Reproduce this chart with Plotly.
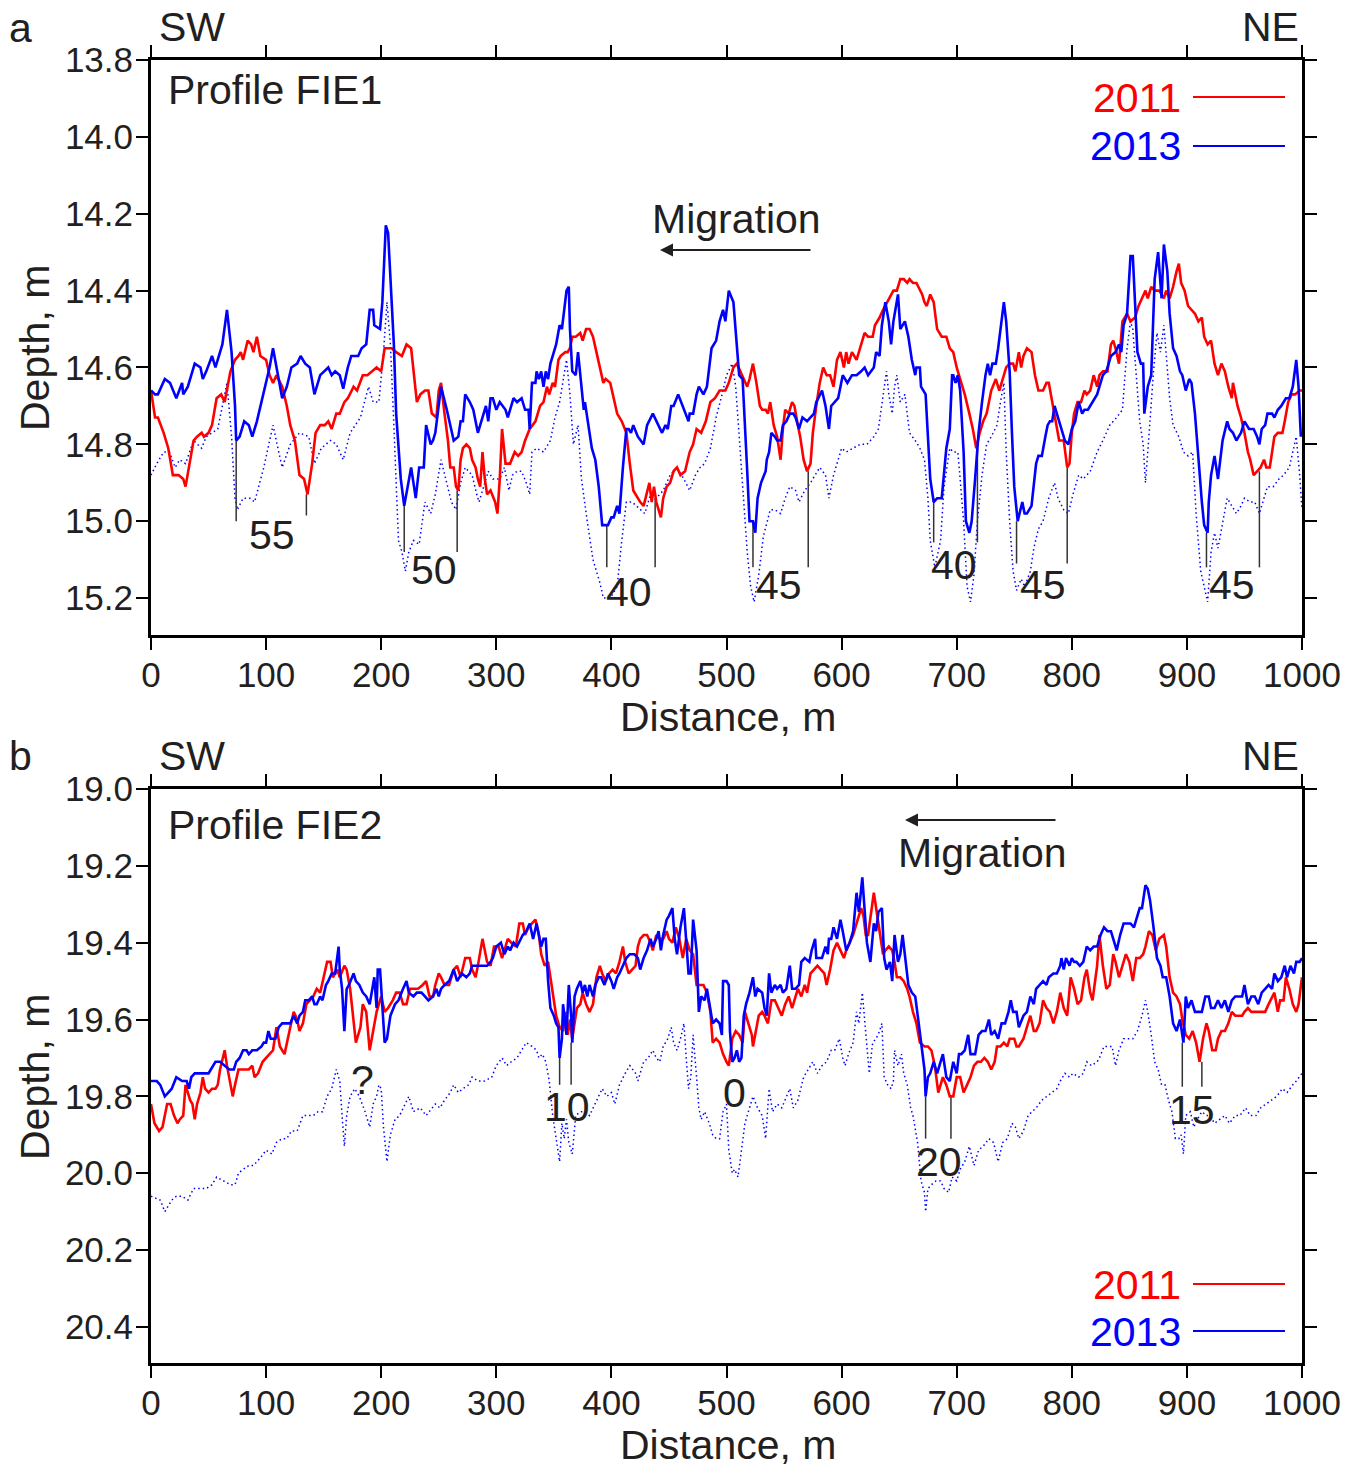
import plotly.graph_objects as go

# ---------------- Panel a : Profile FIE1 ----------------
a2013_x = [0,3.5,6,12,16.5,22,27,28,32,38,43,45,48,53,56,62,66,70,73,74,77,81,85,88,92,98,103,106,110,114,118,122,127,130,134,138,142,147,154,157,160,164,167,171,174,180,183,187,190,193,194,199,201,204,206,211,213,217,220,223,226,230,233,237,239,243,245,
 247,252,257,263,267,269,271,273,277,280,284,288,291,293,295,297,300,303,308,310,315,318,322,325,328,329,331,334,335,337,339,341,343,345,347,350,352,355,357,361,363,364,366,369,371,373,376,377,381,383,386,389,392,397,400,402,405,407,410,413,415,417,419,423,428,431,436,439,444,447,449,452,454,458,462,465,467,468,471,474,476,480,483,487,491,494,497,
 499,502,506,509,511,514,516,518,520,523,525,527,530,534,535,537,539,542,544,547,549,552,555,558,560,563,566,570,573,576,578,583,586,589,591,594,597,601,605,609,613,617,620,623,628,630,633,635,638,641,643,645,649,651,655,658,661,664,665,668,669,673,675,677,680,683,687,689,691,694,696,697,699,701,703,706,708,711,713,716,719,722,725,727,729,731,734,736,
 738,741,743,746,748,750,753,755,757,759,761,765,769,771,774,777,779,781,783,785,788,791,794,797,800,803,806,809,811,814,818,822,824,827,830,834,838,841,843,845,848,851,853,855,857,860,862,863,866,869,872,875,878,880,883,885,888,891,894,896,899,902,904,907,910,913,915,918,919,921,924,927,931,935,937,940,943,947,950,954,958,961,963,965,968,970,974,976,979,982,986,989,992,995,997,999]
a2013_y = [14.66,14.67,14.67,14.63,14.64,14.68,14.64,14.67,14.65,14.59,14.60,14.63,14.61,14.57,14.60,14.54,14.45,14.56,14.70,14.79,14.78,14.74,14.75,14.78,14.74,14.66,14.60,14.55,14.62,14.68,14.65,14.60,14.59,14.57,14.59,14.60,14.67,14.62,14.60,14.62,14.61,14.62,14.655,14.60,14.57,14.57,14.55,14.54,14.45,14.45,14.49,14.50,14.43,14.23,14.25,14.54,14.72,14.89,14.96,14.91,14.86,14.94,14.86,14.86,14.75,14.80,14.79,
 14.77,14.65,14.71,14.79,14.78,14.74,14.74,14.67,14.69,14.71,14.77,14.73,14.70,14.74,14.68,14.68,14.71,14.69,14.71,14.73,14.68,14.69,14.68,14.71,14.71,14.76,14.64,14.64,14.61,14.63,14.61,14.65,14.61,14.63,14.59,14.56,14.54,14.49,14.50,14.40,14.39,14.50,14.61,14.62,14.56,14.62,14.71,14.69,14.77,14.81,14.84,14.91,15.01,15.01,14.99,14.99,14.96,14.98,14.86,14.76,14.76,14.77,14.75,14.78,14.80,14.75,14.72,14.74,14.77,14.75,14.76,14.70,14.70,14.67,14.70,14.72,14.74,14.72,14.72,14.67,14.65,14.67,14.65,14.55,14.53,14.48,14.45,
 14.48,14.40,14.43,14.55,14.62,14.63,14.74,14.87,15.00,15.00,15.03,14.94,14.90,14.87,14.84,14.82,14.77,14.78,14.79,14.79,14.75,14.74,14.72,14.72,14.73,14.76,14.73,14.74,14.73,14.72,14.69,14.66,14.70,14.76,14.70,14.69,14.68,14.62,14.64,14.62,14.62,14.61,14.60,14.62,14.60,14.56,14.57,14.49,14.43,14.48,14.54,14.48,14.41,14.50,14.48,14.52,14.58,14.62,14.60,14.60,14.65,14.67,14.78,14.89,14.95,14.94,14.94,14.88,14.81,14.76,14.62,14.62,14.64,14.62,14.66,14.82,15.00,15.03,15.00,14.89,14.77,14.69,14.62,14.59,14.62,14.59,14.59,14.55,
 14.50,14.43,14.48,14.61,14.77,14.91,15.00,14.97,14.95,14.98,14.98,14.96,14.85,14.83,14.83,14.78,14.75,14.74,14.74,14.70,14.73,14.76,14.79,14.80,14.76,14.74,14.69,14.72,14.71,14.71,14.69,14.67,14.65,14.62,14.61,14.57,14.56,14.54,14.56,14.49,14.46,14.31,14.31,14.43,14.56,14.59,14.59,14.72,14.65,14.62,14.37,14.30,14.42,14.28,14.35,14.46,14.55,14.57,14.61,14.62,14.66,14.63,14.64,14.72,14.84,14.95,15.01,15.03,14.95,14.88,14.83,14.89,14.79,14.74,14.76,14.77,14.79,14.77,14.74,14.76,14.76,14.78,14.80,14.76,14.75,14.72,14.72,14.73,14.71,14.70,14.68,14.68,14.65,14.58,14.65,14.78]

a2011_x = [0,3.5,6,11,15,19,24,28,30,33,37,40,44,46,50,53,57,61,64,69,73,76,78,80,84,87,89,92,95,100,103,106,109,114,118,121,125,129,133,136,140,143,147,151,154,157,161,164,168,171,176,179,184,188,192,196,200,203,206,209,213,218,222,226,231,234,238,241,244,248,
 250,252,255,258,260,263,265,267,269,271,274,277,279,282,284,286,288,290,292,295,299,301,303,305,308,312,316,319,322,325,329,334,338,341,344,346,349,351,354,356,360,362,364,366,369,373,375,378,381,384,387,390,393,395,399,402,405,409,413,416,419,423,425,428,431,433,435,437,439,443,445,448,451,454,457,460,464,468,471,474,478,482,486,490,494,
 499,502,506,509,512,514,518,520,523,526,529,531,534,536,538,541,544,547,549,551,554,557,559,562,564,567,570,573,575,578,581,584,587,590,593,596,599,602,604,606,609,613,616,620,623,627,629,633,636,641,645,648,651,654,657,659,662,665,668,670,672,674,677,680,683,687,691,694,697,700,703,707,711,714,717,720,723,726,730,734,737,740,743,746,749,751,
 754,756,758,761,765,768,771,775,778,780,783,786,789,793,796,798,800,802,805,808,811,813,816,819,822,824,827,831,834,836,838,841,844,848,851,855,858,861,864,866,869,872,876,880,882,885,888,891,893,895,898,901,904,907,910,913,915,918,921,924,927,930,933,936,939,940,944,947,950,953,955,958,961,964,967,969,972,974,976,979,983,985,988,991,994,998,1000]
a2011_y = [14.66,14.73,14.73,14.77,14.81,14.88,14.88,14.89,14.91,14.86,14.79,14.78,14.77,14.78,14.77,14.75,14.68,14.67,14.69,14.61,14.58,14.57,14.56,14.58,14.53,14.54,14.56,14.52,14.57,14.58,14.62,14.64,14.62,14.65,14.70,14.75,14.79,14.88,14.89,14.93,14.85,14.77,14.75,14.75,14.74,14.76,14.72,14.72,14.69,14.68,14.65,14.66,14.62,14.62,14.61,14.60,14.61,14.55,14.55,14.55,14.56,14.57,14.54,14.55,14.69,14.67,14.66,14.66,14.72,14.73,
 14.66,14.64,14.72,14.79,14.86,14.86,14.91,14.92,14.84,14.81,14.80,14.81,14.84,14.86,14.89,14.91,14.82,14.89,14.93,14.92,14.95,14.98,14.89,14.76,14.85,14.85,14.82,14.83,14.82,14.79,14.76,14.74,14.70,14.69,14.65,14.67,14.64,14.65,14.58,14.57,14.56,14.56,14.55,14.52,14.52,14.51,14.53,14.50,14.50,14.52,14.56,14.60,14.64,14.63,14.64,14.68,14.72,14.74,14.77,14.85,14.92,14.94,14.95,14.96,14.92,14.90,14.95,14.91,14.95,14.99,14.94,14.91,14.90,14.87,14.86,14.88,14.87,14.82,14.80,14.76,14.77,14.74,14.69,14.68,14.66,
 14.66,14.64,14.60,14.59,14.61,14.62,14.65,14.63,14.59,14.64,14.70,14.71,14.71,14.72,14.69,14.75,14.78,14.84,14.76,14.71,14.72,14.69,14.70,14.75,14.78,14.84,14.87,14.85,14.77,14.70,14.64,14.60,14.62,14.62,14.65,14.58,14.56,14.60,14.56,14.59,14.56,14.58,14.55,14.51,14.52,14.52,14.49,14.47,14.45,14.42,14.40,14.40,14.37,14.37,14.38,14.37,14.38,14.38,14.40,14.41,14.43,14.44,14.41,14.43,14.50,14.52,14.52,14.55,14.56,14.60,14.63,14.67,14.72,14.76,14.81,14.77,14.74,14.72,14.66,14.63,14.66,14.63,14.60,14.59,14.59,14.61,
 14.56,14.60,14.57,14.55,14.56,14.62,14.66,14.66,14.64,14.64,14.69,14.74,14.79,14.79,14.86,14.85,14.77,14.72,14.69,14.69,14.66,14.67,14.66,14.62,14.65,14.62,14.61,14.61,14.54,14.53,14.55,14.59,14.48,14.46,14.48,14.47,14.44,14.42,14.40,14.42,14.39,14.40,14.40,14.42,14.40,14.42,14.39,14.35,14.33,14.38,14.40,14.44,14.45,14.46,14.48,14.47,14.52,14.54,14.53,14.59,14.62,14.59,14.61,14.65,14.68,14.64,14.70,14.73,14.77,14.82,14.84,14.88,14.87,14.86,14.84,14.86,14.86,14.82,14.78,14.77,14.77,14.74,14.69,14.67,14.67,14.66,14.66]

a_dot_x = [0,5,11,16,21,25,30,37,44,48,58,66,70,73,75,80,86,90,98,106,111,114,121,129,137,142,148,156,161,167,173,182,189,193,198,202,205,208,211,215,218,221,224,228,233,238,243,
 247,252,257,261,265,269,273,279,283,285,289,293,297,303,307,311,314,318,322,326,329,331,335,341,347,351,355,361,364,367,371,374,379,384,390,393,399,405,409,413,418,422,426,429,434,439,445,451,457,463,468,473,477,481,486,491,497,
 500,505,508,512,515,518,521,524,528,532,538,542,547,551,555,560,563,568,573,577,581,586,589,593,597,600,604,610,616,622,628,632,636,639,641,644,646,648,651,655,659,664,668,672,675,677,681,686,689,694,697,701,703,706,709,712,715,718,722,726,730,735,
 738,741,743,746,749,752,756,759,764,767,771,775,780,785,788,793,797,801,806,810,816,822,827,833,839,844,848,851,853,856,859,862,864,866,868,871,874,877,880,882,885,888,893,897,901,905,908,912,915,918,921,924,927,931,935,939,943,947,950,955,959,963,966,970,975,980,984,989,992,995,998,1000]
a_dot_y = [14.88,14.85,14.82,14.82,14.86,14.84,14.85,14.79,14.81,14.78,14.76,14.64,14.78,14.94,14.97,14.94,14.94,14.95,14.86,14.75,14.82,14.86,14.80,14.77,14.78,14.85,14.81,14.79,14.80,14.84,14.77,14.73,14.65,14.69,14.69,14.56,14.43,14.54,14.75,15.05,15.08,15.13,15.08,15.05,15.06,14.95,14.98,
 14.93,14.84,14.90,14.95,14.97,14.90,14.86,14.88,14.93,14.95,14.91,14.87,14.89,14.89,14.86,14.92,14.88,14.87,14.87,14.90,14.93,14.82,14.81,14.82,14.79,14.73,14.69,14.58,14.67,14.80,14.75,14.89,15.00,15.10,15.16,15.20,15.20,15.17,15.05,14.95,14.95,14.96,14.97,14.98,14.93,14.94,14.92,14.88,14.86,14.89,14.92,14.88,14.86,14.85,14.81,14.73,14.66,
 14.62,14.59,14.65,14.82,14.95,15.08,15.17,15.21,15.14,15.04,14.97,14.97,14.98,14.94,14.91,14.92,14.95,14.92,14.90,14.88,14.86,14.88,14.94,14.88,14.84,14.81,14.82,14.81,14.80,14.80,14.78,14.76,14.67,14.61,14.67,14.72,14.65,14.62,14.69,14.67,14.77,14.79,14.81,14.84,14.94,15.05,15.12,15.05,14.91,14.81,14.82,14.82,14.89,15.00,15.17,15.21,15.14,15.00,14.88,14.80,14.78,14.75,
 14.69,14.64,14.82,15.00,15.13,15.18,15.15,15.17,15.13,15.07,15.02,15.00,14.94,14.90,14.94,14.97,14.98,14.93,14.88,14.89,14.87,14.82,14.79,14.75,14.73,14.71,14.55,14.48,14.50,14.61,14.74,14.80,14.90,14.82,14.73,14.61,14.51,14.56,14.49,14.56,14.68,14.75,14.78,14.82,14.83,14.82,14.98,15.13,15.17,15.21,15.08,15.03,15.07,15.00,14.94,14.96,14.98,14.96,14.94,14.95,14.95,14.98,14.95,14.91,14.91,14.89,14.88,14.86,14.82,14.78,14.88,14.97]

# migration marker lines (distance, upper depth, lower depth) and their labels
a_mark_x = [74,135,220,266,396,438,523,571,680,718,752,796,917,963]
a_mark_top = [14.79,14.93,14.96,14.92,15.01,14.94,15.00,14.87,14.94,14.80,15.00,14.86,15.03,14.87]
a_mark_bot = [15.00,14.985,15.08,15.08,15.12,15.12,15.12,15.12,15.055,15.055,15.11,15.11,15.12,15.12]
a_lab_text = ["55","50","40","45","40","45","45"]
a_lab_x = [105,246,415,546,698,775,939]
a_lab_y = [15.037,15.128,15.185,15.167,15.115,15.167,15.167]

# ---------------- Panel b : Profile FIE2 ----------------
b2013_x = [0,5,8,12,15,18,22,27,31,33,35,38,41,45,50,52,56,60,64,68,72,74,77,80,83,85,88,92,96,98,100,102,104,108,111,114,118,121,124,127,129,132,134,137,140,142,144,147,149,152,154,157,160,163,164,166,168,170,172,176,178,181,184,187,190,193,194,196,197,199,201,203,205,208,212,215,219,222,224,228,231,235,238,241,245,248,
 250,252,255,259,263,266,270,274,277,279,283,287,292,295,297,300,304,307,310,312,315,318,321,323,326,329,332,335,337,339,341,343,345,347,350,352,354,355,357,358,361,363,365,366,368,370,373,375,377,379,381,384,386,389,391,394,397,400,402,405,407,410,413,416,420,423,425,428,431,434,436,439,441,443,445,448,450,453,455,457,460,463,465,467,469,471,474,476,478,481,483,486,488,491,494,496,497,500,502,
 503,505,507,509,511,513,515,517,520,523,525,527,531,533,535,537,539,542,544,547,549,552,555,557,560,563,565,568,572,574,577,578,583,586,588,589,591,593,596,599,601,604,607,610,613,615,618,620,622,625,628,630,632,635,637,639,642,644,646,649,651,653,656,658,661,664,667,670,672,673,675,677,680,683,686,688,691,694,697,700,702,704,707,710,712,716,719,722,725,728,730,733,736,739,742,745,747,749,752,
 754,758,761,764,767,769,772,775,778,780,784,787,790,791,793,795,798,800,802,804,807,810,813,816,819,822,825,828,831,834,836,839,842,845,848,851,854,857,859,861,864,866,868,871,874,877,879,882,885,888,891,894,897,899,901,904,907,910,913,916,919,921,924,927,930,933,936,939,942,945,948,950,953,956,959,962,965,968,971,974,976,979,982,985,987,990,993,995,998,1000]
b2013_y = [19.76,19.76,19.77,19.80,19.79,19.78,19.75,19.76,19.76,19.78,19.75,19.74,19.74,19.74,19.74,19.73,19.71,19.71,19.72,19.73,19.73,19.71,19.70,19.68,19.68,19.69,19.68,19.68,19.67,19.66,19.66,19.63,19.65,19.65,19.62,19.61,19.61,19.61,19.59,19.61,19.59,19.58,19.55,19.55,19.54,19.56,19.56,19.54,19.55,19.51,19.50,19.48,19.48,19.41,19.47,19.52,19.63,19.52,19.51,19.48,19.50,19.51,19.53,19.54,19.56,19.51,19.49,19.57,19.47,19.47,19.58,19.66,19.65,19.59,19.56,19.55,19.52,19.50,19.53,19.54,19.53,19.53,19.54,19.55,19.54,19.52,
 19.54,19.52,19.51,19.50,19.47,19.50,19.48,19.49,19.48,19.46,19.46,19.46,19.46,19.45,19.44,19.41,19.40,19.43,19.41,19.42,19.40,19.41,19.39,19.38,19.37,19.35,19.39,19.35,19.38,19.41,19.39,19.39,19.50,19.57,19.59,19.61,19.62,19.70,19.65,19.56,19.64,19.51,19.59,19.66,19.54,19.52,19.50,19.53,19.51,19.54,19.51,19.54,19.51,19.49,19.49,19.51,19.48,19.50,19.52,19.49,19.48,19.46,19.44,19.43,19.43,19.44,19.47,19.44,19.42,19.39,19.41,19.39,19.37,19.42,19.38,19.34,19.33,19.31,19.39,19.43,19.36,19.31,19.40,19.48,19.48,19.34,19.42,19.58,19.54,19.55,19.52,19.57,19.61,19.60,19.61,19.64,19.50,19.50,19.51,
 19.63,19.71,19.70,19.68,19.71,19.70,19.59,19.56,19.53,19.49,19.54,19.52,19.53,19.57,19.59,19.48,19.53,19.51,19.52,19.51,19.53,19.52,19.46,19.52,19.52,19.51,19.45,19.44,19.45,19.42,19.39,19.44,19.44,19.41,19.43,19.39,19.39,19.36,19.39,19.34,19.37,19.42,19.40,19.37,19.27,19.32,19.23,19.32,19.40,19.45,19.35,19.37,19.32,19.31,19.44,19.47,19.45,19.50,19.38,19.45,19.43,19.38,19.46,19.51,19.53,19.54,19.61,19.68,19.73,19.80,19.75,19.74,19.71,19.74,19.71,19.69,19.75,19.76,19.71,19.74,19.69,19.69,19.68,19.64,19.69,19.69,19.64,19.63,19.63,19.60,19.64,19.63,19.65,19.61,19.61,19.58,19.55,19.58,19.58,
 19.62,19.59,19.58,19.54,19.56,19.52,19.51,19.50,19.51,19.49,19.48,19.48,19.46,19.44,19.47,19.44,19.46,19.44,19.45,19.45,19.46,19.45,19.41,19.42,19.41,19.41,19.38,19.36,19.37,19.37,19.39,19.42,19.38,19.35,19.35,19.35,19.36,19.33,19.31,19.31,19.25,19.26,19.29,19.36,19.44,19.46,19.49,19.49,19.54,19.61,19.63,19.60,19.66,19.54,19.57,19.55,19.58,19.58,19.58,19.54,19.54,19.57,19.57,19.55,19.57,19.55,19.58,19.55,19.54,19.54,19.54,19.51,19.56,19.54,19.54,19.56,19.53,19.52,19.51,19.52,19.48,19.50,19.49,19.46,19.49,19.46,19.48,19.45,19.45,19.44]

b2011_x = [0,3,7,10,14,17,20,23,25,28,30,34,36,38,40,43,45,47,50,53,56,58,60,64,66,69,71,73,76,79,83,85,88,90,93,97,100,103,106,109,112,116,118,121,124,127,129,132,135,138,141,144,147,150,153,156,158,162,164,168,170,173,176,178,182,184,187,190,193,196,200,203,206,210,213,216,219,222,225,228,232,236,239,242,245,
 247,250,252,255,259,263,266,269,273,277,279,282,284,288,292,295,298,302,305,308,310,313,317,320,323,325,328,331,334,337,339,342,345,347,350,352,355,358,360,362,364,366,368,370,373,375,378,381,384,387,390,392,395,398,401,404,407,410,412,415,418,421,423,425,428,431,434,436,439,442,445,448,450,453,456,459,462,465,468,471,474,477,480,483,486,488,491,494,497,500,502,
 505,508,511,514,516,519,522,523,526,528,531,533,536,539,542,545,548,551,554,557,560,562,565,568,570,573,576,579,582,585,587,590,593,596,599,602,604,607,610,614,617,619,621,623,625,628,631,633,636,638,641,644,646,648,651,654,657,659,662,665,668,672,675,678,681,684,686,688,691,694,697,700,703,706,709,712,715,718,721,724,727,730,733,735,738,741,744,746,750,752,
 754,758,761,764,767,769,772,775,778,781,784,787,790,793,796,799,802,805,808,811,813,816,818,822,824,827,830,833,836,838,841,844,847,850,853,856,859,862,864,867,870,873,876,880,882,885,888,891,894,896,899,902,905,908,911,914,917,919,922,925,927,930,933,936,939,942,945,948,950,953,956,959,962,965,968,971,974,976,979,981,984,986,989,992,995,997,1000]
b2011_y = [19.82,19.87,19.89,19.88,19.82,19.82,19.85,19.87,19.86,19.85,19.77,19.81,19.82,19.86,19.82,19.79,19.75,19.78,19.79,19.78,19.78,19.77,19.73,19.68,19.72,19.77,19.80,19.77,19.73,19.73,19.73,19.73,19.72,19.75,19.74,19.71,19.70,19.69,19.68,19.62,19.67,19.69,19.66,19.62,19.58,19.60,19.63,19.61,19.56,19.55,19.54,19.52,19.53,19.49,19.45,19.45,19.49,19.47,19.49,19.46,19.47,19.52,19.61,19.66,19.62,19.56,19.58,19.68,19.63,19.58,19.54,19.58,19.57,19.55,19.53,19.53,19.56,19.56,19.52,19.52,19.52,19.51,19.50,19.54,19.54,
 19.51,19.48,19.49,19.51,19.51,19.47,19.46,19.49,19.44,19.44,19.47,19.49,19.46,19.39,19.45,19.46,19.41,19.41,19.44,19.41,19.39,19.40,19.41,19.35,19.35,19.38,19.36,19.35,19.34,19.38,19.43,19.46,19.45,19.49,19.55,19.59,19.62,19.63,19.58,19.64,19.60,19.65,19.61,19.57,19.56,19.53,19.56,19.58,19.56,19.49,19.46,19.48,19.50,19.48,19.47,19.48,19.45,19.41,19.45,19.48,19.47,19.46,19.41,19.39,19.38,19.38,19.40,19.42,19.38,19.39,19.39,19.37,19.39,19.40,19.36,19.39,19.44,19.39,19.42,19.43,19.51,19.51,19.51,19.53,19.58,19.66,19.65,19.66,19.69,19.71,19.72,
 19.65,19.63,19.64,19.66,19.58,19.61,19.64,19.67,19.62,19.59,19.58,19.59,19.61,19.55,19.55,19.57,19.59,19.56,19.54,19.57,19.54,19.52,19.54,19.51,19.53,19.48,19.47,19.46,19.47,19.48,19.51,19.47,19.42,19.40,19.42,19.44,19.42,19.40,19.38,19.34,19.31,19.33,19.38,19.38,19.33,19.27,19.33,19.37,19.43,19.42,19.41,19.42,19.45,19.49,19.49,19.50,19.52,19.54,19.58,19.61,19.66,19.67,19.67,19.68,19.72,19.79,19.77,19.75,19.77,19.80,19.80,19.75,19.75,19.79,19.77,19.75,19.72,19.71,19.71,19.70,19.71,19.73,19.71,19.67,19.67,19.66,19.67,19.65,19.65,19.67,
 19.67,19.65,19.62,19.59,19.63,19.63,19.61,19.55,19.57,19.58,19.61,19.58,19.53,19.57,19.59,19.49,19.52,19.56,19.55,19.49,19.47,19.53,19.55,19.46,19.38,19.46,19.52,19.51,19.43,19.45,19.49,19.46,19.43,19.45,19.50,19.44,19.44,19.43,19.41,19.37,19.38,19.42,19.39,19.38,19.41,19.49,19.53,19.54,19.56,19.60,19.64,19.65,19.63,19.66,19.71,19.65,19.61,19.63,19.68,19.68,19.65,19.63,19.63,19.61,19.58,19.59,19.59,19.59,19.58,19.57,19.58,19.58,19.58,19.58,19.58,19.56,19.54,19.53,19.58,19.55,19.55,19.49,19.52,19.56,19.58,19.56,19.49]

b_dot_x = [0,8,12,18,22,27,32,37,43,48,53,57,63,69,73,76,80,85,89,95,100,105,109,114,118,122,127,132,135,141,145,149,153,157,161,164,166,168,170,173,177,181,186,190,193,196,198,200,202,205,208,212,216,221,224,228,234,239,244,
 247,251,255,260,263,267,271,276,279,284,290,296,300,305,309,313,318,322,326,331,335,337,340,343,346,349,352,355,357,359,361,363,366,369,373,377,381,384,389,392,396,400,403,407,412,416,421,423,428,432,436,439,442,445,449,452,454,457,460,463,465,467,469,471,474,476,478,481,485,488,491,494,
 497,500,502,505,507,510,513,516,520,523,527,531,534,537,540,544,548,552,555,558,562,567,571,575,579,583,587,591,594,598,601,603,606,610,613,615,618,621,624,627,630,633,635,637,640,643,645,646,649,652,654,657,660,662,666,669,672,673,675,678,682,686,689,693,696,700,703,707,711,715,719,723,728,732,736,
 740,744,748,751,754,758,762,766,769,774,778,782,787,790,794,798,801,806,810,813,817,822,824,828,832,835,838,841,845,849,853,857,861,864,866,869,872,875,878,881,884,887,890,893,895,897,899,903,906,909,913,917,920,924,929,933,937,942,946,951,955,960,964,969,974,978,983,987,992,995,1000]
b_dot_y = [20.06,20.07,20.10,20.07,20.06,20.06,20.07,20.04,20.04,20.04,20.03,20.01,20.02,20.03,20.03,20.00,19.99,19.98,19.98,19.96,19.94,19.95,19.92,19.91,19.91,19.89,19.89,19.85,19.85,19.85,19.84,19.84,19.80,19.78,19.73,19.76,19.85,19.93,19.85,19.80,19.78,19.80,19.84,19.88,19.82,19.80,19.77,19.78,19.88,19.97,19.90,19.86,19.85,19.82,19.80,19.84,19.83,19.85,19.83,
 19.82,19.83,19.81,19.79,19.77,19.79,19.78,19.77,19.75,19.76,19.76,19.75,19.72,19.70,19.72,19.71,19.70,19.68,19.66,19.67,19.68,19.70,19.69,19.71,19.76,19.85,19.91,19.97,19.87,19.91,19.86,19.92,19.95,19.85,19.84,19.84,19.85,19.83,19.80,19.78,19.80,19.79,19.82,19.77,19.74,19.72,19.74,19.76,19.71,19.70,19.68,19.70,19.71,19.67,19.65,19.62,19.66,19.68,19.65,19.61,19.70,19.78,19.75,19.64,19.75,19.83,19.86,19.84,19.87,19.90,19.91,19.91,
 19.84,19.82,19.94,20.00,19.99,20.01,19.94,19.87,19.83,19.80,19.83,19.85,19.91,19.78,19.84,19.82,19.83,19.80,19.78,19.83,19.81,19.75,19.73,19.71,19.74,19.72,19.71,19.68,19.68,19.65,19.70,19.72,19.69,19.66,19.58,19.61,19.53,19.64,19.74,19.66,19.65,19.63,19.61,19.75,19.77,19.78,19.76,19.68,19.72,19.69,19.74,19.77,19.83,19.85,19.92,20.02,20.05,20.10,20.04,20.03,20.02,20.02,20.04,20.05,20.01,20.02,19.99,19.97,19.93,19.98,19.94,19.93,19.91,19.92,19.97,
 19.92,19.91,19.87,19.88,19.91,19.89,19.85,19.84,19.83,19.81,19.80,19.79,19.78,19.76,19.74,19.75,19.74,19.75,19.74,19.71,19.72,19.71,19.70,19.67,19.67,19.67,19.72,19.68,19.65,19.65,19.65,19.63,19.59,19.55,19.58,19.64,19.71,19.73,19.77,19.77,19.81,19.84,19.91,19.91,19.90,19.95,19.85,19.84,19.88,19.86,19.84,19.85,19.85,19.87,19.86,19.85,19.87,19.85,19.85,19.83,19.85,19.85,19.83,19.82,19.81,19.80,19.78,19.79,19.77,19.76,19.74]

b_mark_x = [355,365,673,695,896,913]
b_mark_top = [19.70,19.66,19.80,19.80,19.66,19.71]
b_mark_bot = [19.77,19.77,19.91,19.91,19.775,19.775]
b_lab_text = ["?","10","0","20","15"]
b_lab_x = [184,361,507,685,904]
b_lab_y = [19.758,19.828,19.792,19.971,19.836]

x_ticks = list(range(0, 1001, 100))
a_yticks = [13.8, 14.0, 14.2, 14.4, 14.6, 14.8, 15.0, 15.2]
b_yticks = [19.0, 19.2, 19.4, 19.6, 19.8, 20.0, 20.2, 20.4]
a_yrange = [15.296, 13.8]
b_yrange = [20.494, 19.0]

RED = "#ff0000"
BLUE = "#0000ff"
TXT = "#231f20"
FONT = "Liberation Sans, Arial, sans-serif"

fig = go.Figure()

def seg(xs, tops, bots):
    X, Y = [], []
    for x, t, b in zip(xs, tops, bots):
        X += [x, x, None]
        Y += [t, b, None]
    return X, Y

def add_panel(xa, ya, x11, y11, x13, y13, xd, yd, mx, mt, mb):
    fig.add_trace(go.Scatter(x=xd, y=yd, mode="lines", xaxis=xa, yaxis=ya,
                             line=dict(color=BLUE, width=1.5, dash="1.5px,3px"), showlegend=False, hoverinfo="skip"))
    X, Y = seg(mx, mt, mb)
    fig.add_trace(go.Scatter(x=X, y=Y, mode="lines", xaxis=xa, yaxis=ya,
                             line=dict(color="#333333", width=1.5), showlegend=False, hoverinfo="skip"))
    fig.add_trace(go.Scatter(x=x11, y=y11, mode="lines", xaxis=xa, yaxis=ya,
                             line=dict(color=RED, width=2.6), showlegend=False, hoverinfo="skip"))
    fig.add_trace(go.Scatter(x=x13, y=y13, mode="lines", xaxis=xa, yaxis=ya,
                             line=dict(color=BLUE, width=2.6), showlegend=False, hoverinfo="skip"))

add_panel("x", "y", a2011_x, a2011_y, a2013_x, a2013_y, a_dot_x, a_dot_y, a_mark_x, a_mark_top, a_mark_bot)
add_panel("x2", "y2", b2011_x, b2011_y, b2013_x, b2013_y, b_dot_x, b_dot_y, b_mark_x, b_mark_top, b_mark_bot)

dom_a = [0.5587, 1.0]
dom_b = [0.0, 0.4405]
tickfont = dict(family=FONT, size=35, color=TXT)
base_x = dict(range=[0, 1000], tickvals=x_ticks, showline=True, linecolor="black", linewidth=3, mirror="ticks",
              ticks="outside", ticklen=12, tickwidth=1.5, tickcolor="black", showgrid=False,
              zeroline=False, tickfont=tickfont, domain=[0, 1], ticklabelstandoff=-5)
base_y = dict(showline=True, linecolor="black", linewidth=3, mirror="ticks", ticks="outside", ticklen=12,
              tickwidth=1.5, tickcolor="black", showgrid=False, zeroline=False, tickfont=tickfont,
              tickformat=".1f", ticklabelstandoff=-4)

fig.update_layout(
    width=1359, height=1467,
    margin=dict(l=151, r=57, t=60, b=104),
    paper_bgcolor="white", plot_bgcolor="white",
    xaxis=dict(base_x, anchor="y"),
    yaxis=dict(base_y, range=a_yrange, tickvals=a_yticks, domain=dom_a, anchor="x"),
    xaxis2=dict(base_x, anchor="y2"),
    yaxis2=dict(base_y, range=b_yrange, tickvals=b_yticks, domain=dom_b, anchor="x2"),
    showlegend=False,
)

def pxx(px):
    return (px - 151) / 1151.0

def pxy(py):
    return (1363 - py) / 1303.0

big = dict(family=FONT, size=41, color=TXT)
ann = []
def txt(text, x, y, xanchor="center", color=TXT, size=41, textangle=0):
    ann.append(dict(text=text, x=pxx(x), y=pxy(y), xref="paper", yref="paper", showarrow=False,
                    xanchor=xanchor, yanchor="middle", textangle=textangle,
                    font=dict(family=FONT, size=size, color=color)))

# panel headers
txt("a", 20, 28); txt("SW", 192, 27); txt("NE", 1270, 27)
txt("b", 20, 756); txt("SW", 192, 756); txt("NE", 1270, 756)
txt("Profile FIE1", 166, 90, xanchor="left")
txt("Profile FIE2", 166, 825, xanchor="left")
# axis titles
txt("Distance, m", 728, 717); txt("Distance, m", 728, 1445)
txt("Depth, m", 35, 348, textangle=-90); txt("Depth, m", 35, 1077, textangle=-90)
# legends
for yy, lab, col in [(98, "2011", RED), (146, "2013", BLUE), (1285, "2011", RED), (1332, "2013", BLUE)]:
    txt(lab, 1183, yy, xanchor="right", color=col)
# migration
txt("Migration", 736, 219); txt("Migration", 982, 853)
for hx, hy in [(660, 250), (905, 820)]:
    ann.append(dict(x=pxx(hx), y=pxy(hy), xref="paper", yref="paper", ax=152, ay=0, axref="pixel", ayref="pixel",
                    showarrow=True, arrowhead=2, arrowsize=1.3, arrowwidth=2, arrowcolor=TXT, text=""))
# numbers near troughs
for t, x, y in zip(a_lab_text, a_lab_x, a_lab_y):
    ann.append(dict(text=t, x=x, y=y, xref="x", yref="y", showarrow=False, font=big))
for t, x, y in zip(b_lab_text, b_lab_x, b_lab_y):
    ann.append(dict(text=t, x=x, y=y, xref="x2", yref="y2", showarrow=False, font=big))
fig.update_layout(annotations=ann)

shapes = []
for yy, col in [(97, RED), (146, BLUE), (1284, RED), (1331, BLUE)]:
    shapes.append(dict(type="line", xref="paper", yref="paper", x0=pxx(1193), x1=pxx(1285), y0=pxy(yy), y1=pxy(yy),
                       line=dict(color=col, width=2.2)))
fig.update_layout(shapes=shapes)

fig.write_html("out.html")
